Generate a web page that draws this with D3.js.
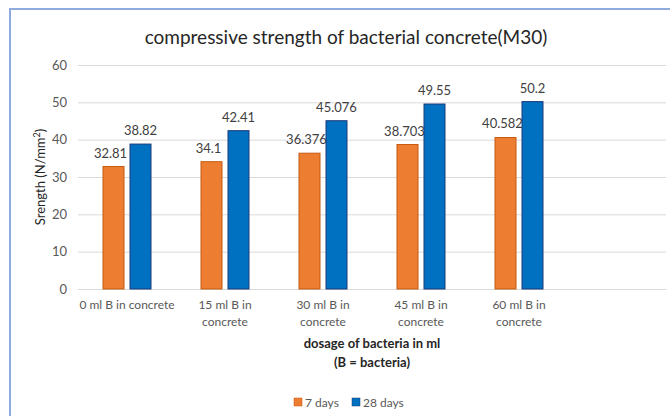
<!DOCTYPE html>
<html>
<head>
<meta charset="utf-8">
<script src="https://cdn.jsdelivr.net/npm/d3@7"></script>
<style>
  html, body { margin: 0; padding: 0; background: #fff; }
  svg { display: block; }
  text { font-family: Lato, "Open Sans", sans-serif; }
</style>
</head>
<body>
<svg id="chart" width="670" height="416"></svg>
<script>
const categories = [
  ["0 ml B in concrete"],
  ["15 ml B in", "concrete"],
  ["30 ml B in", "concrete"],
  ["45 ml B in", "concrete"],
  ["60 ml B in", "concrete"],
  [""]
];
const days7 = [32.81, 34.1, 36.376, 38.703, 40.582];
const days28 = [38.82, 42.41, 45.076, 49.55, 50.2];
const labels7 = ["32.81", "34.1", "36.376", "38.703", "40.582"];
const labels28 = ["38.82", "42.41", "45.076", "49.55", "50.2"];
const yTicks = [0, 10, 20, 30, 40, 50, 60];
const seriesNames = ["7 days", "28 days"];

const svg = d3.select("#chart");
const W = 670, H = 416;
const plot = { left: 78, right: 666, top: 65, bottom: 289 };

// chart frame (light blue border)
svg.append("line").attr("x1", 9).attr("x2", W).attr("y1", 9).attr("y2", 9)
  .attr("stroke", "#8faadc").attr("stroke-width", 2);
svg.append("line").attr("x1", 10).attr("x2", 10).attr("y1", 8).attr("y2", H)
  .attr("stroke", "#8faadc").attr("stroke-width", 2);

// title
svg.append("text").attr("x", 346).attr("y", 44).attr("text-anchor", "middle")
  .attr("font-size", 19).attr("fill", "#262626")
  .text("compressive strength of bacterial concrete(M30)");

const x = d3.scaleBand().domain(d3.range(categories.length))
  .range([plot.left, plot.right]).padding(0);
const y = d3.scaleLinear().domain([0, 60]).range([plot.bottom, plot.top]);

// gridlines
const yAxis = d3.axisLeft(y).tickValues(yTicks).tickSize(-(plot.right - plot.left)).tickPadding(11);
const gy = svg.append("g").attr("transform", `translate(${plot.left},0)`).call(yAxis);
gy.select(".domain").remove();
gy.selectAll(".tick line").attr("stroke", "#d9d9d9").attr("stroke-width", 1);
gy.selectAll(".tick text").attr("font-size", 13).attr("fill", "#595959")
  .style("font-family", "Lato, 'Open Sans', sans-serif");

// x axis
const xAxis = d3.axisBottom(x).tickSize(0).tickFormat("");
const gx = svg.append("g").attr("transform", `translate(0,${plot.bottom})`).call(xAxis);
gx.select(".domain").attr("stroke", "#d9d9d9").attr("stroke-width", 1);
gx.selectAll(".tick").each(function(d) {
  const t = d3.select(this).append("text").attr("text-anchor", "middle")
    .attr("font-size", 12).attr("fill", "#595959");
  categories[d].forEach((line, i) => {
    t.append("tspan").attr("x", 0).attr("y", 20 + i * 17).text(line);
  });
});

// bars
const barW = 22, gap = 5;
const sub = d3.scaleOrdinal().domain([0, 1]).range([-(barW + gap / 2), gap / 2]);
const series = [
  { vals: days7, labels: labels7, fill: "#ed7d31", stroke: "#c55a11" },
  { vals: days28, labels: labels28, fill: "#0070c0", stroke: "#1f3a7a" }
];
series.forEach((s, si) => {
  const g = svg.append("g");
  g.selectAll("rect").data(s.vals).join("rect")
    .attr("x", (d, i) => x(i) + x.bandwidth() / 2 + sub(si) + 0.5)
    .attr("y", d => y(d))
    .attr("width", barW - 1)
    .attr("height", d => y(0) - y(d))
    .attr("fill", s.fill).attr("stroke", s.stroke).attr("stroke-width", 1);
  g.selectAll("text").data(s.vals).join("text")
    .attr("x", (d, i) => x(i) + x.bandwidth() / 2 + sub(si) + barW / 2 - (si === 0 ? 3 : 0))
    .attr("y", d => y(d) - 9)
    .attr("text-anchor", "middle").attr("font-size", 13).attr("fill", "#404040")
    .text((d, i) => s.labels[i]);
});

// axis titles
svg.append("text").attr("transform", "translate(45,177) rotate(-90)")
  .attr("text-anchor", "middle").attr("font-size", 13).attr("fill", "#262626")
  .html('Srength (N/mm<tspan dy="-5" font-size="9">2</tspan><tspan dy="5">)</tspan>');

const xt = svg.append("text").attr("text-anchor", "middle").attr("font-size", 13)
  .attr("font-weight", "bold").attr("fill", "#262626");
xt.append("tspan").attr("x", (plot.left + plot.right) / 2).attr("y", 348).text("dosage of bacteria in ml");
xt.append("tspan").attr("x", (plot.left + plot.right) / 2).attr("y", 367).text("(B = bacteria)");

// legend
const legend = svg.append("g");
const legX = [294, 352];
seriesNames.forEach((n, i) => {
  legend.append("rect").attr("x", legX[i]).attr("y", 398).attr("width", 8).attr("height", 8)
    .attr("fill", series[i].fill).attr("stroke", series[i].stroke).attr("stroke-width", 0.5);
  legend.append("text").attr("x", legX[i] + 11).attr("y", 407).attr("font-size", 12)
    .attr("fill", "#595959").text(n);
});
</script>
</body>
</html>
